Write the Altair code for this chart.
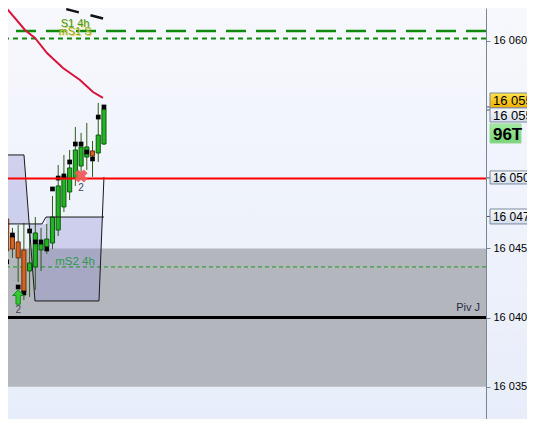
import altair as alt
import pandas as pd

# ---------------- data ----------------
idx = list(range(19))
opens = [16048.14, 16047.13, 16045.90, 16045.47, 16044.89, 16043.37, 16043.66, 16044.89, 16045.10, 16045.39,
         16046.33, 16048.00, 16049.08, 16050.09, 16050.96, 16051.61, 16052.05, 16051.90, 16052.55]
highs = [16048.65, 16047.64, 16046.48, 16046.69, 16046.84, 16046.69, 16047.27, 16046.48, 16046.77, 16048.79,
         16051.03, 16051.76, 16052.12, 16053.78, 16053.35, 16054.07, 16052.77, 16055.52, 16055.37]
lows = [16044.89, 16044.31, 16044.31, 16042.57, 16041.27, 16041.49, 16042.00, 16043.37, 16044.60, 16044.96,
        16045.90, 16047.64, 16048.50, 16049.52, 16050.53, 16050.67, 16050.17, 16051.25, 16052.48]
closes = [16046.84, 16044.82, 16044.96, 16044.31, 16041.85, 16043.95, 16046.12, 16045.32, 16045.68, 16047.27,
          16049.52, 16050.24, 16050.82, 16052.12, 16052.34, 16052.34, 16051.68, 16053.20, 16055.08]
dots = [16044.96, 16044.02, 16045.97, 16042.21, 16041.78, 16046.26, 16045.47, 16045.47, 16044.96, 16049.30,
        16050.09, 16050.24, 16051.25, 16052.55, 16052.55, 16051.97, 16051.47, 16054.50, 16055.23]

# red moving-average curve
ma_x = [-0.17, 1.22, 4.20, 5.94, 8.04, 10.84, 13.81, 16.08, 17.83]
ma_y = [16062.96, 16062.24, 16060.80, 16060.22, 16059.13, 16058.05, 16057.18, 16056.31, 16055.88]

# black dashed descending line
bl_x = [7.17, 18.18]
bl_y = [16062.75, 16061.59]

# horizontal levels
s1_4h = 16060.72
ms1_s = 16060.18
ms2_4h = 16043.66
red_level = 16050.05
pivot = 16040.0
band_top, band_bot = 16045.0, 16035.0

# zone outlines (index, price)
pathA_x = [-2.0, 4.02, 5.94, 17.13, 18.0]
pathA_y = [16051.76, 16051.76, 16041.20, 16041.20, 16050.17]
pathB_x = [-2.0, 7.17, 7.87, 18.0]
pathB_y = [16046.77, 16046.77, 16047.27, 16047.27]

# axis tick values
tick_vals = [16035, 16040, 16045, 16060]

# ---------------- scales ----------------
X0, X1 = 1.224, 84.79
Y0, Y1 = 16032.664, 16062.386
xs = alt.Scale(domain=[X0, X1], nice=False, zero=False)
ys = alt.Scale(domain=[Y0, Y1], nice=False, zero=False)
FONT = "Liberation Sans"

YAXIS = alt.Axis(orient="right", values=tick_vals, grid=False, domainColor="#7a8694", title=None,
                 tickColor="#7a8694", tickSize=4, labelPadding=3, labelFont=FONT, zindex=2,
                 labelFontSize=11, labelColor="#000000",
                 labelExpr="substring(toString(datum.value),0,2) + ' ' + substring(toString(datum.value),2)")


def qx(f):
    return alt.X(f, type="quantitative", scale=xs, axis=None)


def qy(f):
    return alt.Y(f, type="quantitative", scale=ys, axis=YAXIS, title=None)


layers = []

# background gradient (whole chart)
bg = alt.Chart(pd.DataFrame({"a": [0]})).mark_rect(
    fill=alt.LinearGradient(gradient="linear", x1=0, x2=0, y1=0, y2=1,
                            stops=[alt.GradientStop(color="#f7f8fd", offset=0),
                                   alt.GradientStop(color="#eef2fb", offset=0.55),
                                   alt.GradientStop(color="#e7edfa", offset=1)])
).encode(x=alt.value(0), x2=alt.value(519), y=alt.value(0), y2=alt.value(411))
layers.append(bg)

# grey band
band = alt.Chart(pd.DataFrame({"t": [band_top], "b": [band_bot]})).mark_rect(color="#b4b6be").encode(
    y=qy("t"), y2="b")
layers.append(band)

# zone fills
zone_fill = "#9090d0"
z1 = pd.DataFrame({"p": [pathA_y[0], pathB_y[0]], "xl": [-2.0, -2.0], "xr": [4.02, 4.93]})
layers.append(alt.Chart(z1).mark_area(orient="horizontal", color=zone_fill, opacity=0.35, clip=True).encode(
    y=qy("p"), x=qx("xl"), x2="xr"))
z2 = pd.DataFrame({"p": [16046.77, 16041.20], "xl": [4.93, 5.94], "xr": [17.68, 17.13]})
layers.append(alt.Chart(z2).mark_area(orient="horizontal", color=zone_fill, opacity=0.35, clip=True).encode(
    y=qy("p"), x=qx("xl"), x2="xr"))
z3 = pd.DataFrame({"xl": [7.87], "xr": [17.73], "t": [16047.27], "b": [16046.77]})
layers.append(alt.Chart(z3).mark_rect(color=zone_fill, opacity=0.35, clip=True).encode(
    x=qx("xl"), x2="xr", y=qy("t"), y2="b"))

# green level lines
layers.append(alt.Chart(pd.DataFrame({"p": [s1_4h]})).mark_rule(
    color="#0f8a0f", strokeWidth=2.5, strokeDash=[20, 10]).encode(y=qy("p")))
layers.append(alt.Chart(pd.DataFrame({"p": [ms1_s]})).mark_rule(
    color="#0f8a0f", strokeWidth=2, strokeDash=[5, 4]).encode(y=qy("p")))
layers.append(alt.Chart(pd.DataFrame({"p": [ms2_4h]})).mark_rule(
    color="#1a9a1a", strokeWidth=1, strokeDash=[4, 3]).encode(y=qy("p")))

# red curve and black dashed line
layers.append(alt.Chart(pd.DataFrame({"x": ma_x, "y": ma_y, "o": list(range(len(ma_x)))})).mark_line(
    color="#d8143c", strokeWidth=2, clip=True).encode(x=qx("x"), y=qy("y"), order="o:Q"))
layers.append(alt.Chart(pd.DataFrame({"x": bl_x, "y": bl_y})).mark_line(
    color="#111111", strokeWidth=2.5, strokeDash=[13, 12], clip=True).encode(x=qx("x"), y=qy("y")))

# candles
cdf = pd.DataFrame({"i": idx, "o": opens, "h": highs, "l": lows, "c": closes})
cdf["dir"] = ["up" if c >= o else "down" for o, c in zip(opens, closes)]
cdf["xl"] = cdf["i"] - 0.36
cdf["xr"] = cdf["i"] + 0.36
layers.append(alt.Chart(cdf).mark_rule(color="#2f5a1a", strokeWidth=1, clip=True).encode(
    x=qx("i"), y=qy("l"), y2="h"))
layers.append(alt.Chart(cdf).mark_rect(strokeWidth=1, clip=True).encode(
    x=qx("xl"), x2="xr", y=qy("o"), y2="c",
    fill=alt.Fill("dir:N", scale=alt.Scale(domain=["up", "down"], range=["#22b422", "#d2641e"]), legend=None),
    stroke=alt.Stroke("dir:N", scale=alt.Scale(domain=["up", "down"], range=["#0d5a0d", "#6a3010"]), legend=None)))

# black dots
layers.append(alt.Chart(pd.DataFrame({"i": idx, "d": dots})).mark_square(
    size=22, color="#000000", opacity=1, clip=True).encode(x=qx("i"), y=qy("d")))

# zone outlines
pa = pd.DataFrame({"x": pathA_x, "y": pathA_y, "o": list(range(len(pathA_x))), "g": "A"})
pb = pd.DataFrame({"x": pathB_x, "y": pathB_y, "o": list(range(len(pathB_x))), "g": "B"})
layers.append(alt.Chart(pd.concat([pa, pb])).mark_line(color="#1a1a1a", strokeWidth=1, clip=True).encode(
    x=qx("x"), y=qy("y"), order="o:Q", detail="g:N"))

# red level and pivot
layers.append(alt.Chart(pd.DataFrame({"p": [red_level]})).mark_rule(color="#ff0000", strokeWidth=2).encode(y=qy("p")))
layers.append(alt.Chart(pd.DataFrame({"p": [pivot]})).mark_rule(color="#000000", strokeWidth=3).encode(y=qy("p")))

# markers
layers.append(alt.Chart(pd.DataFrame({"i": [14], "p": [16050.24]})).mark_point(
    shape="cross", angle=45, size=170, filled=True, color="#f05a5a", opacity=0.95).encode(x=qx("i"), y=qy("p")))
arrow = "M0,-1 L0.75,-0.2 L0.3,-0.2 L0.3,1 L-0.3,1 L-0.3,-0.2 L-0.75,-0.2 Z"
layers.append(alt.Chart(pd.DataFrame({"i": [3], "p": [16041.49]})).mark_point(
    shape=arrow, size=210, filled=True, fill="#36c836", stroke="#1a8a1a", strokeWidth=1, opacity=1).encode(
    x=qx("i"), y=qy("p")))
layers.append(alt.Chart(pd.DataFrame({"i": [14, 3], "p": [16049.37, 16040.58], "t": ["2", "2"]})).mark_text(
    font=FONT, fontSize=10, color="#3c4452").encode(x=qx("i"), y=qy("p"), text="t:N"))

# level labels
lab = pd.DataFrame({"x": [12.94, 12.94, 12.94], "p": [16061.23, 16060.65, 16044.02],
                    "t": ["S1 4h", "mS1 S", "mS2 4h"]})
layers.append(alt.Chart(lab.iloc[:2]).mark_text(font=FONT, fontSize=11, color="#e6d44a", dx=1, dy=1).encode(
    x=qx("x"), y=qy("p"), text="t:N"))
layers.append(alt.Chart(lab.iloc[:1]).mark_text(font=FONT, fontSize=11, color="#3a9a3a").encode(
    x=qx("x"), y=qy("p"), text="t:N"))
layers.append(alt.Chart(lab.iloc[1:2]).mark_text(font=FONT, fontSize=11, color="#8aa828").encode(
    x=qx("x"), y=qy("p"), text="t:N"))
layers.append(alt.Chart(lab.iloc[2:]).mark_text(font=FONT, fontSize=11.5, color="#2e9a4a").encode(
    x=qx("x"), y=qy("p"), text="t:N"))
layers.append(alt.Chart(pd.DataFrame({"x": [83.74], "p": [16040.55], "t": ["Piv J"]})).mark_text(
    font=FONT, fontSize=11, color="#2a2a44", align="right", baseline="bottom", dy=3).encode(
    x=qx("x"), y=qy("p"), text="t:N"))

# right-hand price tags
tick_marks = [16055.23, 16055.01, 16050.10, 16047.31]
layers.append(alt.Chart(pd.DataFrame({"p": tick_marks, "a": [X1] * 4, "b": [85.49] * 4})).mark_rule(
    color="#44505c", strokeWidth=1).encode(y=qy("p"), x=qx("a"), x2="b"))


def tag(top, bot, xr, text, c0, c1, size, bold=False, border="#7a8aa0"):
    d = pd.DataFrame({"xl": [85.49], "xr": [xr], "t": [top], "b": [bot], "m": [(top + bot) / 2],
                      "tx": [86.0], "s": [text]})
    r = alt.Chart(d).mark_rect(
        fill=alt.LinearGradient(gradient="linear", x1=0, x2=0, y1=0, y2=1,
                                stops=[alt.GradientStop(color=c0, offset=0), alt.GradientStop(color=c1, offset=1)]),
        stroke=border, strokeWidth=1).encode(x=qx("xl"), x2="xr", y=qy("t"), y2="b")
    t = alt.Chart(d).mark_text(font=FONT, fontSize=size, fontWeight="bold" if bold else "normal",
                               color="#000000", align="left", baseline="middle", dy=1).encode(
        x=qx("tx"), y=qy("m"), text="s:N")
    return [r, t]


layers += tag(16056.24, 16055.16, 97, "16 055,75", "#ffe24a", "#f0b000", 13)
layers += tag(16055.16, 16054.14, 97, "16 055,50", "#f6f8fc", "#d6deec", 13)
layers += tag(16054.00, 16052.62, 90.91, "96T", "#a4eaa4", "#74d474", 17, bold=True, border="#9ad89a")
layers += tag(16050.60, 16049.66, 97, "16 050,25", "#f6f8fc", "#d6deec", 12)
layers += tag(16047.85, 16046.77, 97, "16 047,25", "#f6f8fc", "#d6deec", 12)

chart = alt.layer(*layers).properties(
    width=478, height=411,
    padding={"left": 0, "top": 0, "right": 41, "bottom": 0},
    autosize=alt.AutoSizeParams(type="none"),
    background="#f3f5fc",
).configure_view(stroke=None)

chart.save("out.html", embed_options={"renderer": "svg", "actions": False})
